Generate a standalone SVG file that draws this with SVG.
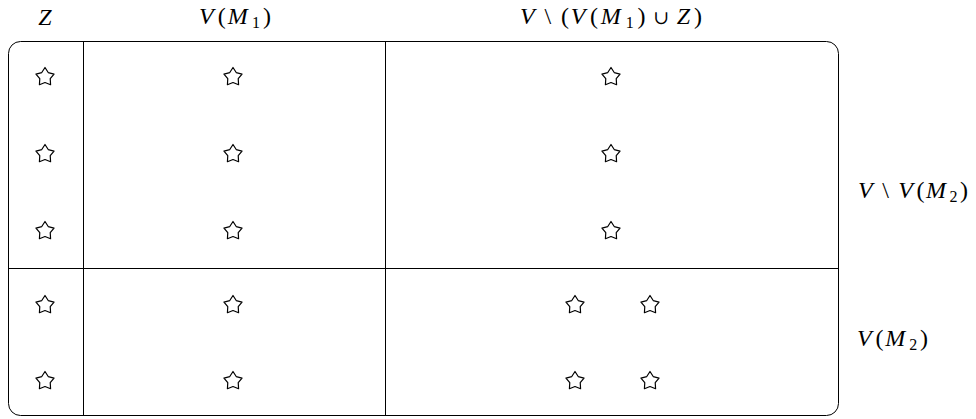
<svg xmlns="http://www.w3.org/2000/svg" width="976" height="419" viewBox="0 0 976 419">
<style>
.t{font-family:"Liberation Serif","DejaVu Serif",serif;font-size:24px;fill:#000}
.i{font-style:italic}
.s{font-size:16px}
.u{font-size:19px}
.ln{stroke:#000;stroke-width:1;fill:none}
</style>
<defs>
<path id="star" d="M0,-9.5 L3.23,-4.45 L9.04,-2.94 L5.23,1.7 L5.58,7.69 L0,5.5 L-5.58,7.69 L-5.23,1.7 L-9.04,-2.94 L-3.23,-4.45 Z" fill="#fff" stroke="#000" stroke-width="1.2" stroke-linejoin="round"/>
</defs>
<rect width="976" height="419" fill="#fff"/>
<g id="frame">
<rect class="ln" x="8.5" y="41.5" width="830" height="374" rx="12" ry="12"/>
</g>
<g id="connectors">
<line class="ln" x1="83.5" y1="41.5" x2="83.5" y2="415.5"/>
<line class="ln" x1="385.5" y1="41.5" x2="385.5" y2="415.5"/>
<line class="ln" x1="8.5" y1="268.5" x2="838.5" y2="268.5"/>
</g>
<g id="labels">
<text class="t" x="45" y="25" text-anchor="middle"><tspan class="i">Z</tspan></text>
<text class="t" x="199" y="24" textLength="72" lengthAdjust="spacing"><tspan class="i">V</tspan><tspan dx="3">(</tspan><tspan class="i" dx="1">M</tspan><tspan class="s" dx="3" dy="4">1</tspan><tspan dx="2" dy="-4">)</tspan></text>
<text class="t" x="520" y="24" textLength="182" lengthAdjust="spacing"><tspan class="i">V</tspan><tspan dx="8">\</tspan><tspan dx="8">(</tspan><tspan class="i">V</tspan><tspan dx="3">(</tspan><tspan class="i" dx="1">M</tspan><tspan class="s" dx="3" dy="4">1</tspan><tspan dx="2" dy="-4">)</tspan><tspan class="u" dx="6">∪</tspan><tspan class="i" dx="6">Z</tspan><tspan dx="2">)</tspan></text>
<text class="t" x="858" y="198" textLength="110" lengthAdjust="spacing"><tspan class="i">V</tspan><tspan dx="9">\</tspan><tspan class="i" dx="9">V</tspan><tspan dx="3">(</tspan><tspan class="i" dx="1">M</tspan><tspan class="s" dx="3" dy="4">2</tspan><tspan dx="2" dy="-4">)</tspan></text>
<text class="t" x="857" y="346" textLength="71" lengthAdjust="spacing"><tspan class="i">V</tspan><tspan dx="3">(</tspan><tspan class="i" dx="1">M</tspan><tspan class="s" dx="3" dy="4">2</tspan><tspan dx="2" dy="-4">)</tspan></text>
</g>
<g id="n-z1"><use href="#star" x="45" y="77"/></g>
<g id="n-z2"><use href="#star" x="45" y="154"/></g>
<g id="n-z3"><use href="#star" x="45" y="231"/></g>
<g id="n-z4"><use href="#star" x="45" y="305"/></g>
<g id="n-z5"><use href="#star" x="45" y="381"/></g>
<g id="n-m1"><use href="#star" x="233" y="77"/></g>
<g id="n-m2"><use href="#star" x="233" y="154"/></g>
<g id="n-m3"><use href="#star" x="233" y="231"/></g>
<g id="n-m4"><use href="#star" x="233" y="305"/></g>
<g id="n-m5"><use href="#star" x="233" y="381"/></g>
<g id="n-r1"><use href="#star" x="611" y="77"/></g>
<g id="n-r2"><use href="#star" x="611" y="154"/></g>
<g id="n-r3"><use href="#star" x="611" y="231"/></g>
<g id="n-r4a"><use href="#star" x="575" y="305"/></g>
<g id="n-r4b"><use href="#star" x="650" y="305"/></g>
<g id="n-r5a"><use href="#star" x="575" y="381"/></g>
<g id="n-r5b"><use href="#star" x="650" y="381"/></g>
</svg>
